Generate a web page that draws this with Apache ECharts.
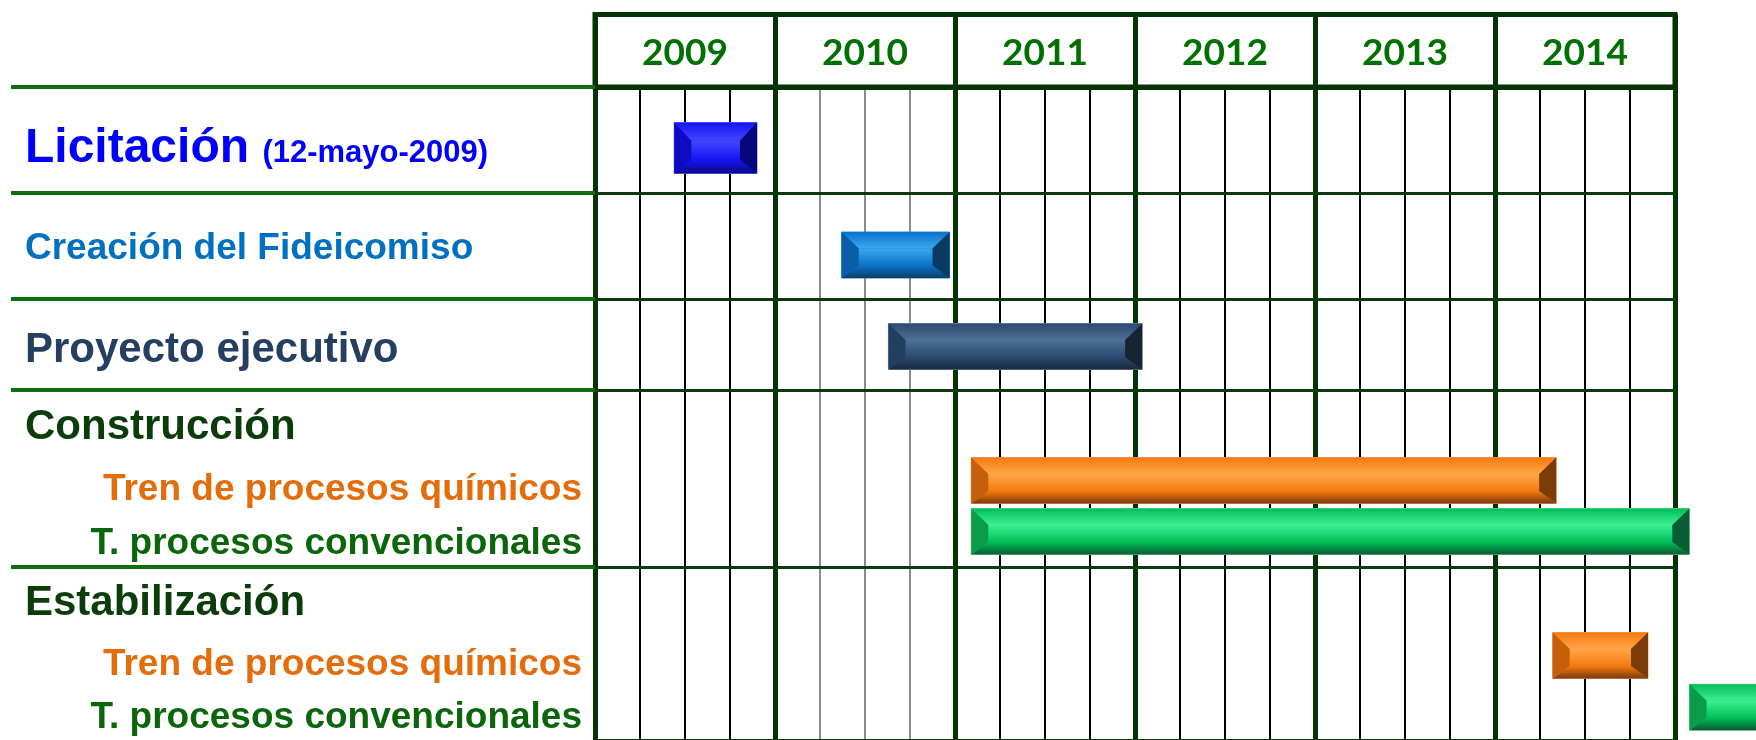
<!DOCTYPE html>
<html>
<head>
<meta charset="utf-8">
<title>Cronograma</title>
<script src="https://cdn.jsdelivr.net/npm/echarts@6/dist/echarts.min.js"></script>
<style>
  html, body { margin: 0; padding: 0; background: #fff; }
  #main { width: 1756px; height: 740px; }
</style>
</head>
<body>
<div id="main"></div>
<script>
// datos del cronograma
var years = ['2009', '2010', '2011', '2012', '2013', '2014'];
var taskNames = ['Licitación', 'Creación del Fideicomiso', 'Proyecto ejecutivo',
  'Construcción', 'Tren de procesos químicos', 'T. procesos convencionales',
  'Estabilización', 'Tren de procesos químicos', 'T. procesos convencionales'];
var licitacionNote = '(12-mayo-2009)';
var taskStart = [2009.44, 2010.37, 2010.63, null, 2011.09, 2011.09, null, 2014.32, 2015.08];
var taskEnd = [2009.90, 2010.97, 2012.04, null, 2014.34, 2015.08, null, 2014.85, 2015.60];
var groups = [[0], [1], [2], [3, 4, 5], [6, 7, 8]];

// estilos
var labelKind = ['title', 'fide', 'proj', 'head', 'chem', 'conv', 'head', 'chem', 'conv'];
var barKind = ['blue', 'fide', 'navy', null, 'orange', 'green', null, 'orange', 'green'];
var palettes = {
  blue: { main: '#1414f2', light: '#4646ff', dark: '#0a0a8a', left: '#0c0cc4', right: '#07077a', edge: '#7a7aff' },
  fide: { main: '#0a72c8', light: '#3aa8f2', dark: '#0a3d6a', left: '#0a5ea6', right: '#083a62', edge: '#2a8ad8' },
  navy: { main: '#2b4a70', light: '#4e6f96', dark: '#19283d', left: '#223f5f', right: '#162436', edge: '#8a9ab0' },
  orange: { main: '#f57a10', light: '#ffa646', dark: '#7a3a0c', left: '#c65e0c', right: '#7c3c0a', edge: '#f0a070' },
  green: { main: '#00bf58', light: '#3cf095', dark: '#0a5a32', left: '#0a9c4a', right: '#0a5e34', edge: '#80d8a8' }
};
var FONT = '"Liberation Sans", Arial, sans-serif';
var GRID_LEFT = 595, GRID_RIGHT = 81;
var HEADER_TOP = 14.5, HEADER_BOTTOM = 87;
var groupTop = [87, 193, 299, 390, 567];
var groupBottom = [193, 299, 390, 567, 744];
var BAR_H = 46;
// pequeño ajuste vertical de cada barra dentro de su fila (px)
var barNudge = [8, 9, 2, 0, 2, -6, 0, 2, -4];
var DARK = '#033303';

var myChart = echarts.init(document.getElementById('main'));

// colores de las líneas trimestrales (2010 en gris)
var quarterColors = [];
for (var t = 0; t <= 24; t++) {
  var yr = 2009 + Math.floor(t / 4);
  if (t % 4 === 0) quarterColors.push('rgba(0,0,0,0)');
  else if (yr === 2010) quarterColors.push('#8c8c8c');
  else quarterColors.push('#000000');
}

function bevelBar(x0, y0, x1, y1, pal) {
  var w = x1 - x0, h = y1 - y0;
  var sx = Math.min(17, w / 2), st = h * 0.36, sb = h * 0.27;
  var ix0 = x0 + sx, ix1 = x1 - sx, iy0 = y0 + st, iy1 = y1 - sb;
  function grad(c1, c2) {
    return new echarts.graphic.LinearGradient(0, 0, 0, 1, [{ offset: 0, color: c1 }, { offset: 1, color: c2 }]);
  }
  return {
    type: 'group',
    children: [
      { type: 'rect', shape: { x: x0, y: y0, width: w, height: h }, style: { fill: pal.main, stroke: pal.edge, lineWidth: 1 } },
      { type: 'polygon', shape: { points: [[x0, y0], [x1, y0], [ix1, iy0], [ix0, iy0]] }, style: { fill: grad(pal.main, pal.light) } },
      { type: 'rect', shape: { x: ix0, y: iy0, width: ix1 - ix0, height: iy1 - iy0 }, style: { fill: grad(pal.light, pal.main) } },
      { type: 'polygon', shape: { points: [[ix0, iy1], [ix1, iy1], [x1, y1], [x0, y1]] }, style: { fill: grad(pal.main, pal.dark) } },
      { type: 'polygon', shape: { points: [[x0, y0], [ix0, iy0], [ix0, iy1], [x0, y1]] }, style: { fill: pal.left } },
      { type: 'polygon', shape: { points: [[x1, y0], [ix1, iy0], [ix1, iy1], [x1, y1]] }, style: { fill: pal.right } }
    ]
  };
}

function renderBar(params, api) {
  var row = api.value(2);
  var task = api.value(3);
  var p0 = api.coord([api.value(0), row]);
  var p1 = api.coord([api.value(1), row]);
  var cy = p0[1] + barNudge[task];
  var h = task === 0 ? BAR_H + 5 : BAR_H;
  return bevelBar(p0[0], cy - h / 2, p1[0], cy + h / 2, palettes[barKind[task]]);
}

var rich = {
  title: { fontSize: 48, fontWeight: 'bold', color: '#0000ff', align: 'left', verticalAlign: 'bottom', padding: [18, 0, 0, 0], fontFamily: FONT },
  note: { fontSize: 31, fontWeight: 'bold', color: '#0000ff', align: 'left', verticalAlign: 'bottom', padding: [0, 0, 4, 0], fontFamily: FONT },
  fide: { fontSize: 37, fontWeight: 'bold', color: '#0070c0', align: 'left', padding: [6, 0, 0, 0], fontFamily: FONT },
  proj: { fontSize: 42, fontWeight: 'bold', color: '#243f60', align: 'left', padding: [11, 0, 0, 0], fontFamily: FONT },
  head: { fontSize: 42, fontWeight: 'bold', color: '#0a3d0a', align: 'left', padding: [15, 0, 0, 0], fontFamily: FONT },
  chem: { fontSize: 37, fontWeight: 'bold', color: '#e46c0a', align: 'right', padding: [22, 0, 0, 0], fontFamily: FONT },
  conv: { fontSize: 37, fontWeight: 'bold', color: '#0b650b', align: 'right', padding: [13, 0, 0, 0], fontFamily: FONT }
};

var grids = [], xAxes = [], yAxes = [], series = [], lines = [];

// cabecera con los años
grids.push({ left: GRID_LEFT, right: GRID_RIGHT, top: HEADER_TOP, height: HEADER_BOTTOM - HEADER_TOP,
  show: true, borderWidth: 5, borderColor: DARK });
xAxes.push({
  type: 'category', gridIndex: 0, data: years, position: 'bottom', boundaryGap: true,
  axisLine: { show: true, lineStyle: { color: DARK, width: 5 } },
  axisTick: { show: false },
  splitLine: { show: true, interval: 0, lineStyle: { color: DARK, width: 5 } },
  axisLabel: { inside: true, margin: 34, verticalAlign: 'middle', color: '#007000',
    fontFamily: 'Lato', fontWeight: 'bold', fontSize: 37 }
});
yAxes.push({ type: 'value', gridIndex: 0, show: false });

groups.forEach(function(rows, g) {
  var gi = g + 1;
  grids.push({ left: GRID_LEFT, right: GRID_RIGHT, top: groupTop[g], height: groupBottom[g] - groupTop[g] });
  // líneas de año
  xAxes.push({
    type: 'value', gridIndex: gi, min: 2009, max: 2015, interval: 1, position: 'bottom',
    axisLabel: { show: false }, axisTick: { show: false },
    axisLine: { show: true, onZero: false, lineStyle: { color: '#0a3a0a', width: 3 } },
    splitLine: { show: true, lineStyle: { color: DARK, width: 5 } }
  });
  // líneas trimestrales
  xAxes.push({
    type: 'value', gridIndex: gi, min: 2009, max: 2015, interval: 0.25, position: 'top',
    axisLabel: { show: false }, axisTick: { show: false }, axisLine: { show: false },
    splitLine: { show: true, lineStyle: { color: quarterColors, width: 2 } }
  });
  yAxes.push({
    type: 'category', gridIndex: gi, inverse: true,
    data: rows.map(function(i) { return taskNames[i]; }),
    axisLine: { show: false }, axisTick: { show: false }, splitLine: { show: false },
    axisLabel: {
      margin: 13, width: 557, rich: rich,
      formatter: function(value, idx) {
        var k = labelKind[rows[idx]];
        if (k === 'title') return '{title|' + value + ' }{note|' + licitacionNote + '}';
        return '{' + k + '|' + value + '}';
      }
    }
  });
  var data = [];
  rows.forEach(function(i, r) {
    if (taskStart[i] != null) data.push([taskStart[i], taskEnd[i], r, i]);
  });
  series.push({
    type: 'custom', xAxisIndex: 2 * g + 1, yAxisIndex: gi, clip: false,
    renderItem: renderBar, encode: { x: [0, 1], y: 2 }, data: data
  });
  lines.push({ type: 'line', z: 10, shape: { x1: 11, y1: groupTop[g], x2: GRID_LEFT, y2: groupTop[g] },
    style: { stroke: '#0e6e0e', lineWidth: 4 } });
});

var option = {
  backgroundColor: '#ffffff',
  animation: false,
  grid: grids,
  xAxis: xAxes,
  yAxis: yAxes,
  series: series,
  graphic: lines
};
myChart.setOption(option);
</script>
</body>
</html>
